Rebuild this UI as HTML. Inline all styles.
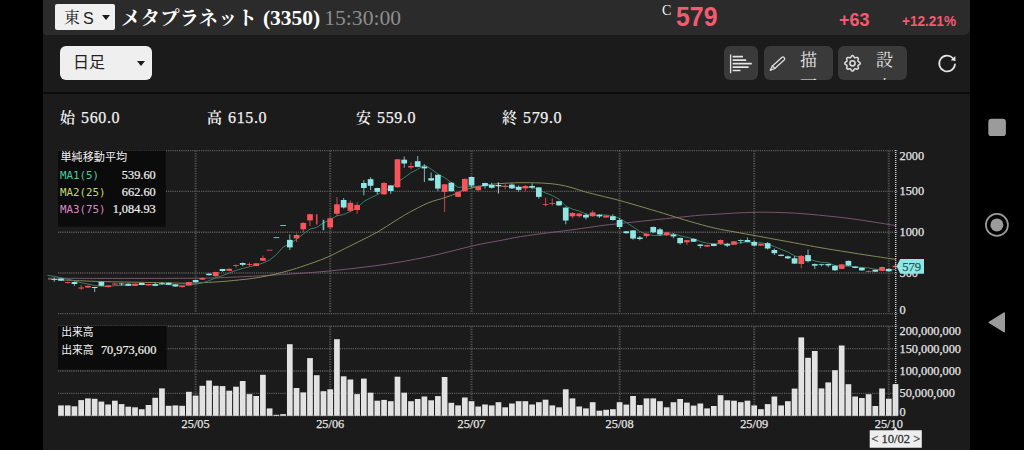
<!DOCTYPE html>
<html lang="ja">
<head>
<meta charset="utf-8">
<title>メタプラネット (3350)</title>
<style>
*{box-sizing:border-box;margin:0;padding:0}
html,body{width:1024px;height:450px;overflow:hidden;background:#000}
body{position:relative;font-family:"Liberation Serif","Noto Serif CJK SC",serif;color:#eee}
.app{position:absolute;left:43px;top:0;width:927px;height:450px;background:#1b1b1b}
.hdr{position:absolute;left:0;top:0;width:927px;height:35px;background:#2b2b2b;border-radius:0 0 6px 4px}
.mkt{position:absolute;left:12px;top:4px;width:60px;height:26px;background:#f0f0f0;border-radius:2px;color:#222}
.mkt .k{position:absolute;left:9px;top:2px;font:16px/24px "Liberation Serif","Noto Serif CJK SC",serif}
.mkt .s{position:absolute;left:28px;top:2px;font:16px/25px "Liberation Sans","Noto Sans CJK JP",sans-serif}
.tri{position:absolute;width:0;height:0;border-left:4.5px solid transparent;border-right:4.5px solid transparent;border-top:5px solid #1a1a1a}
.ttl{position:absolute;left:78px;top:.5px;height:35px;line-height:35px;white-space:nowrap;font-size:19.5px;font-weight:700;color:#fff}
.ttl .code{font:700 21.5px/35px "Liberation Serif",serif;margin-left:6px;letter-spacing:0}
.ttl .tm{font:400 21.6px/35px "Liberation Serif",serif;color:#8e8e8e;margin-left:4px}
.cl{position:absolute;left:619px;top:3px;font:14px/16px "Liberation Serif",serif;color:#f2f2f2}
.px{position:absolute;left:633px;top:2px;font:700 27px/30px "Liberation Sans",sans-serif;color:#f45a70;transform-origin:0 50%;transform:scaleX(.92)}
.chg{position:absolute;left:796px;top:10px;font:700 18px/20px "Liberation Sans",sans-serif;color:#f45a70}
.pct{position:absolute;left:859px;top:13px;font:700 14px/16px "Liberation Sans",sans-serif;color:#f45a70;transform-origin:0 50%;transform:scaleX(.97)}
.sel{position:absolute;left:17px;top:46px;width:92px;height:34px;background:#efefef;border-radius:6px;color:#222}
.sel span{position:absolute;left:13px;top:5px;font:16px/24px "Liberation Sans","Noto Sans CJK JP",sans-serif}
.btn{position:absolute;top:46px;height:34px;background:#3a3a3a;border-radius:6px;overflow:hidden;color:#e6e6e6}
.btn .t{position:absolute;top:1.8px;width:17px;font:17px/26.8px "Liberation Serif","Noto Serif CJK SC",serif;word-break:break-all}
.sep{position:absolute;left:0;top:92px;width:927px;height:1.5px;background:#0b0b0b}
.ohlc{position:absolute;top:108.4px;-webkit-text-stroke:.25px #f0f0f0;font:16px/20px "Liberation Serif","Noto Serif CJK SC",serif;color:#f0f0f0;white-space:nowrap;letter-spacing:.6px}
.ohlc b{font-weight:600;font-size:15px;letter-spacing:0;margin-right:1.5px;-webkit-text-stroke:0}
svg{position:absolute;left:0;top:0}
svg text{font-family:"Liberation Serif","Noto Serif CJK SC",serif}
svg text.sans{font-family:"Liberation Sans","Noto Sans CJK JP",sans-serif}
svg .mono text{font-family:"DejaVu Sans Mono","Liberation Mono",monospace}
</style>
</head>
<body>
<div class="app">
  <div class="hdr">
    <div class="mkt"><span class="k">東</span><span class="s">S</span><i class="tri" style="left:47px;top:11px"></i></div>
    <div class="ttl">メタプラネット<span class="code">(3350)</span><span class="tm">15:30:00</span></div>
    <div class="cl">C</div>
    <div class="px">579</div>
    <div class="chg">+63</div>
    <div class="pct">+12.21%</div>
  </div>
  <div class="sel"><span>日足</span><i class="tri" style="left:77px;top:15px"></i></div>
  <div class="btn" style="left:681px;width:34px">
    <svg width="34" height="34" viewBox="0 0 34 34"><g stroke="#e4e4e4" fill="none"><path d="M6.6 8.4V27.2" stroke-width="1.3"/><path d="M8.6 10.7H19M8.6 14.2H22.2M8.6 17.7H27.8M8.6 21.1H24.6M8.6 24.5H16.5" stroke-width="1.7"/></g></svg>
  </div>
  <div class="btn" style="left:721px;width:69px">
    <svg width="34" height="34" viewBox="0 0 34 34"><g stroke="#dcdcdc" stroke-width="1.3" fill="none" stroke-linejoin="round" stroke-linecap="round"><path d="M6.20 24.30L8.43 19.91L17.79 11.40A1.75 1.75 0 0 1 20.14 13.99L10.78 22.50Z"/><path d="M8.43 19.91L10.78 22.50"/></g></svg>
    <div class="t" style="left:36px">描画</div>
  </div>
  <div class="btn" style="left:795px;width:69px">
    <svg width="34" height="34" viewBox="0 0 34 34"><g stroke="#dcdcdc" stroke-width="1.55" fill="none" stroke-linejoin="round"><circle cx="14.5" cy="17.3" r="2.6"/><path d="M14.50 9.60L15.00 9.71L15.46 10.02L15.84 10.58L16.15 11.15L16.46 11.53L16.80 11.76L17.19 11.84L17.68 11.79L18.31 11.60L18.97 11.48L19.52 11.58L19.94 11.86L20.22 12.28L20.32 12.83L20.20 13.49L20.01 14.12L19.96 14.61L20.04 15.00L20.27 15.34L20.65 15.65L21.22 15.96L21.78 16.34L22.09 16.80L22.20 17.30L22.09 17.80L21.78 18.26L21.22 18.64L20.65 18.95L20.27 19.26L20.04 19.60L19.96 19.99L20.01 20.48L20.20 21.11L20.32 21.77L20.22 22.32L19.94 22.74L19.52 23.02L18.97 23.12L18.31 23.00L17.68 22.81L17.19 22.76L16.80 22.84L16.46 23.07L16.15 23.45L15.84 24.02L15.46 24.58L15.00 24.89L14.50 25.00L14.00 24.89L13.54 24.58L13.16 24.02L12.85 23.45L12.54 23.07L12.20 22.84L11.81 22.76L11.32 22.81L10.69 23.00L10.03 23.12L9.48 23.02L9.06 22.74L8.78 22.32L8.68 21.77L8.80 21.11L8.99 20.48L9.04 19.99L8.96 19.60L8.73 19.26L8.35 18.95L7.78 18.64L7.22 18.26L6.91 17.80L6.80 17.30L6.91 16.80L7.22 16.34L7.78 15.96L8.35 15.65L8.73 15.34L8.96 15.00L9.04 14.61L8.99 14.12L8.80 13.49L8.68 12.83L8.78 12.28L9.06 11.86L9.48 11.58L10.03 11.48L10.69 11.60L11.32 11.79L11.81 11.84L12.20 11.76L12.54 11.53L12.85 11.15L13.16 10.58L13.54 10.02L14.00 9.71Z"/></g></svg>
    <div class="t" style="left:38px">設定</div>
  </div>
  <svg style="left:893px;top:52px" width="24" height="24" viewBox="0 0 24 24"><path d="M16.97 6.21A7.9 7.9 0 1 0 18.97 12.3" fill="none" stroke="#e2e2e2" stroke-width="1.7" stroke-linecap="round"/><path d="M19.3 4.1L14.7 8.3L19.5 9Z" fill="#e2e2e2"/></svg>
  <div class="sep"></div>
  <div class="ohlc" style="left:17px"><b>始</b> 560.0</div>
  <div class="ohlc" style="left:164px"><b>高</b> 615.0</div>
  <div class="ohlc" style="left:313px"><b>安</b> 559.0</div>
  <div class="ohlc" style="left:459px"><b>終</b> 579.0</div>
</div>
<svg width="1024" height="450" viewBox="0 0 1024 450">
<g stroke="#5c5c5c" stroke-width="1.4" stroke-dasharray="1.2 1" fill="none"><line x1="58" y1="150.6" x2="898" y2="150.6"/><line x1="58" y1="191.4" x2="898" y2="191.4"/><line x1="58" y1="232.2" x2="898" y2="232.2"/><line x1="58" y1="273.0" x2="898" y2="273.0"/><line x1="58" y1="313.6" x2="898" y2="313.6"/><line x1="58" y1="326.3" x2="898" y2="326.3"/><line x1="58" y1="348.65" x2="898" y2="348.65"/><line x1="58" y1="371.0" x2="898" y2="371.0"/><line x1="58" y1="393.35" x2="898" y2="393.35"/><line x1="58" y1="415.7" x2="898" y2="415.7"/></g>
<g stroke="#505050" stroke-width="2.1" stroke-dasharray="1.2 1.3" fill="none"><line x1="195.6" y1="150.6" x2="195.6" y2="313.6"/><line x1="195.6" y1="326.3" x2="195.6" y2="416"/><line x1="330.2" y1="150.6" x2="330.2" y2="313.6"/><line x1="330.2" y1="326.3" x2="330.2" y2="416"/><line x1="471.5" y1="150.6" x2="471.5" y2="313.6"/><line x1="471.5" y1="326.3" x2="471.5" y2="416"/><line x1="619.6" y1="150.6" x2="619.6" y2="313.6"/><line x1="619.6" y1="326.3" x2="619.6" y2="416"/><line x1="754.2" y1="150.6" x2="754.2" y2="313.6"/><line x1="754.2" y1="326.3" x2="754.2" y2="416"/><line x1="888.8" y1="150.6" x2="888.8" y2="313.6"/><line x1="888.8" y1="326.3" x2="888.8" y2="416"/></g>
<g fill="#e2e2e2"><rect x="58.15" y="405.4" width="5.7" height="10.4"/><rect x="64.88" y="405.4" width="5.7" height="10.4"/><rect x="71.61" y="406.3" width="5.7" height="9.5"/><rect x="78.34" y="400.1" width="5.7" height="15.7"/><rect x="85.07" y="398.4" width="5.7" height="17.4"/><rect x="91.80" y="398.8" width="5.7" height="17.0"/><rect x="98.53" y="401.6" width="5.7" height="14.2"/><rect x="105.26" y="404.5" width="5.7" height="11.3"/><rect x="111.99" y="400.7" width="5.7" height="15.1"/><rect x="118.72" y="404.1" width="5.7" height="11.7"/><rect x="125.45" y="406.7" width="5.7" height="9.1"/><rect x="132.18" y="407.3" width="5.7" height="8.5"/><rect x="138.91" y="409.2" width="5.7" height="6.6"/><rect x="145.64" y="405.0" width="5.7" height="10.8"/><rect x="152.37" y="397.8" width="5.7" height="18.0"/><rect x="159.10" y="388.4" width="5.7" height="27.4"/><rect x="165.83" y="405.8" width="5.7" height="10.0"/><rect x="172.56" y="405.4" width="5.7" height="10.4"/><rect x="179.29" y="405.8" width="5.7" height="10.0"/><rect x="186.02" y="391.8" width="5.7" height="24.0"/><rect x="192.75" y="395.6" width="5.7" height="20.2"/><rect x="199.48" y="385.8" width="5.7" height="30.0"/><rect x="206.21" y="380.5" width="5.7" height="35.3"/><rect x="212.94" y="385.8" width="5.7" height="30.0"/><rect x="219.67" y="386.1" width="5.7" height="29.7"/><rect x="226.40" y="390.7" width="5.7" height="25.1"/><rect x="233.13" y="386.7" width="5.7" height="29.1"/><rect x="239.86" y="381.0" width="5.7" height="34.8"/><rect x="246.59" y="394.1" width="5.7" height="21.7"/><rect x="253.32" y="396.0" width="5.7" height="19.8"/><rect x="260.05" y="374.8" width="5.7" height="41.0"/><rect x="266.78" y="408.4" width="5.7" height="7.4"/><rect x="273.51" y="414.8" width="5.7" height="1.0"/><rect x="280.24" y="414.1" width="5.7" height="1.7"/><rect x="286.97" y="344.2" width="5.7" height="71.6"/><rect x="293.70" y="388.0" width="5.7" height="27.8"/><rect x="300.43" y="392.4" width="5.7" height="23.4"/><rect x="307.16" y="358.1" width="5.7" height="57.7"/><rect x="313.89" y="375.2" width="5.7" height="40.6"/><rect x="320.62" y="391.2" width="5.7" height="24.6"/><rect x="327.35" y="389.3" width="5.7" height="26.5"/><rect x="334.08" y="339.2" width="5.7" height="76.6"/><rect x="340.81" y="376.3" width="5.7" height="39.5"/><rect x="347.54" y="379.5" width="5.7" height="36.3"/><rect x="354.27" y="394.1" width="5.7" height="21.7"/><rect x="361.00" y="378.6" width="5.7" height="37.2"/><rect x="367.73" y="392.7" width="5.7" height="23.1"/><rect x="374.46" y="400.7" width="5.7" height="15.1"/><rect x="381.19" y="399.9" width="5.7" height="15.9"/><rect x="387.92" y="401.2" width="5.7" height="14.6"/><rect x="394.65" y="376.7" width="5.7" height="39.1"/><rect x="401.38" y="392.7" width="5.7" height="23.1"/><rect x="408.11" y="401.2" width="5.7" height="14.6"/><rect x="414.84" y="399.0" width="5.7" height="16.8"/><rect x="421.57" y="396.5" width="5.7" height="19.3"/><rect x="428.30" y="400.3" width="5.7" height="15.5"/><rect x="435.03" y="396.1" width="5.7" height="19.7"/><rect x="441.76" y="377.0" width="5.7" height="38.8"/><rect x="448.49" y="402.8" width="5.7" height="13.0"/><rect x="455.22" y="405.4" width="5.7" height="10.4"/><rect x="461.95" y="397.5" width="5.7" height="18.3"/><rect x="468.68" y="401.2" width="5.7" height="14.6"/><rect x="475.41" y="406.5" width="5.7" height="9.3"/><rect x="482.14" y="404.5" width="5.7" height="11.3"/><rect x="488.87" y="405.4" width="5.7" height="10.4"/><rect x="495.60" y="402.2" width="5.7" height="13.6"/><rect x="502.33" y="407.3" width="5.7" height="8.5"/><rect x="509.06" y="403.5" width="5.7" height="12.3"/><rect x="515.79" y="401.2" width="5.7" height="14.6"/><rect x="522.52" y="401.2" width="5.7" height="14.6"/><rect x="529.25" y="404.5" width="5.7" height="11.3"/><rect x="535.98" y="402.2" width="5.7" height="13.6"/><rect x="542.71" y="399.7" width="5.7" height="16.1"/><rect x="549.44" y="405.4" width="5.7" height="10.4"/><rect x="556.17" y="407.3" width="5.7" height="8.5"/><rect x="562.90" y="389.3" width="5.7" height="26.5"/><rect x="569.63" y="398.4" width="5.7" height="17.4"/><rect x="576.36" y="406.5" width="5.7" height="9.3"/><rect x="583.09" y="408.4" width="5.7" height="7.4"/><rect x="589.82" y="402.2" width="5.7" height="13.6"/><rect x="596.55" y="410.7" width="5.7" height="5.1"/><rect x="603.28" y="409.8" width="5.7" height="6.0"/><rect x="610.01" y="409.2" width="5.7" height="6.6"/><rect x="616.74" y="402.2" width="5.7" height="13.6"/><rect x="623.47" y="404.6" width="5.7" height="11.2"/><rect x="630.20" y="396.0" width="5.7" height="19.8"/><rect x="636.93" y="405.0" width="5.7" height="10.8"/><rect x="643.66" y="398.4" width="5.7" height="17.4"/><rect x="650.39" y="398.4" width="5.7" height="17.4"/><rect x="657.12" y="401.2" width="5.7" height="14.6"/><rect x="663.85" y="407.3" width="5.7" height="8.5"/><rect x="670.58" y="402.2" width="5.7" height="13.6"/><rect x="677.31" y="399.0" width="5.7" height="16.8"/><rect x="684.04" y="402.6" width="5.7" height="13.2"/><rect x="690.77" y="405.6" width="5.7" height="10.2"/><rect x="697.50" y="403.5" width="5.7" height="12.3"/><rect x="704.23" y="408.4" width="5.7" height="7.4"/><rect x="710.96" y="406.0" width="5.7" height="9.8"/><rect x="717.69" y="395.2" width="5.7" height="20.6"/><rect x="724.42" y="400.3" width="5.7" height="15.5"/><rect x="731.15" y="400.7" width="5.7" height="15.1"/><rect x="737.88" y="402.2" width="5.7" height="13.6"/><rect x="744.61" y="400.7" width="5.7" height="15.1"/><rect x="751.34" y="405.4" width="5.7" height="10.4"/><rect x="758.07" y="409.2" width="5.7" height="6.6"/><rect x="764.80" y="404.1" width="5.7" height="11.7"/><rect x="771.53" y="396.5" width="5.7" height="19.3"/><rect x="778.26" y="405.4" width="5.7" height="10.4"/><rect x="784.99" y="401.2" width="5.7" height="14.6"/><rect x="791.72" y="388.6" width="5.7" height="27.2"/><rect x="798.45" y="337.4" width="5.7" height="78.4"/><rect x="805.18" y="357.8" width="5.7" height="58.0"/><rect x="811.91" y="351.0" width="5.7" height="64.8"/><rect x="818.64" y="388.4" width="5.7" height="27.4"/><rect x="825.37" y="382.4" width="5.7" height="33.4"/><rect x="832.10" y="370.2" width="5.7" height="45.6"/><rect x="838.83" y="345.5" width="5.7" height="70.3"/><rect x="845.56" y="384.2" width="5.7" height="31.6"/><rect x="852.29" y="396.5" width="5.7" height="19.3"/><rect x="859.02" y="398.0" width="5.7" height="17.8"/><rect x="865.75" y="394.2" width="5.7" height="21.6"/><rect x="872.48" y="406.0" width="5.7" height="9.8"/><rect x="879.21" y="388.5" width="5.7" height="27.3"/><rect x="885.94" y="398.7" width="5.7" height="17.1"/><rect x="892.67" y="384.1" width="5.7" height="31.7"/></g>
<path d="M48.0,278.2C56.7,278.2 83.0,278.4 100.0,278.4C117.0,278.4 132.3,278.4 150.0,278.4C167.7,278.3 192.7,278.3 206.0,278.1C219.3,277.9 220.9,277.7 230.0,277.3C239.1,276.9 250.6,276.4 260.6,275.8C270.6,275.2 279.3,274.7 290.0,274.0C300.7,273.3 315.0,272.3 325.0,271.4C335.0,270.5 341.7,269.7 350.0,268.8C358.3,267.9 366.7,266.9 375.0,265.8C383.3,264.7 392.5,263.2 400.0,262.0C407.5,260.8 413.3,259.6 420.0,258.3C426.7,257.0 433.3,255.6 440.0,254.0C446.7,252.4 453.2,250.7 460.0,249.0C466.8,247.3 474.3,245.4 481.0,244.0C487.7,242.6 493.4,241.8 500.0,240.6C506.6,239.4 512.3,237.9 520.6,236.6C528.9,235.3 540.9,233.8 550.0,232.6C559.1,231.4 566.7,230.5 575.0,229.4C583.3,228.3 592.6,226.8 600.0,225.8C607.4,224.8 611.3,224.5 619.6,223.6C627.9,222.7 640.1,221.4 650.0,220.3C659.9,219.2 670.7,218.2 679.0,217.3C687.3,216.5 694.0,215.7 700.0,215.2C706.0,214.7 708.3,214.7 715.0,214.3C721.7,213.9 732.2,213.2 740.0,212.8C747.8,212.5 754.2,212.2 761.7,212.2C769.2,212.2 777.0,212.3 785.0,212.7C793.0,213.0 800.0,213.4 810.0,214.3C820.0,215.2 835.0,216.7 845.0,217.9C855.0,219.1 861.5,220.2 870.0,221.5C878.5,222.8 891.7,224.9 896.0,225.6" fill="none" stroke="#785472" stroke-width="1"/>
<path d="M48.0,279.0C51.7,279.2 61.3,279.9 70.0,280.3C78.7,280.7 86.7,281.1 100.0,281.5C113.3,281.9 135.8,282.2 150.0,282.5C164.2,282.8 177.3,283.1 185.0,283.2C192.7,283.3 189.7,283.3 196.0,283.0C202.3,282.7 214.6,282.1 222.8,281.5C231.0,280.9 238.7,280.0 245.0,279.3C251.3,278.6 255.6,278.0 260.6,277.1C265.6,276.2 270.3,275.3 275.0,274.2C279.7,273.1 284.0,271.9 289.0,270.5C294.0,269.1 299.0,267.6 305.0,265.5C311.0,263.4 319.2,260.6 325.0,258.2C330.8,255.8 334.2,253.9 340.0,251.0C345.8,248.1 353.8,244.2 360.0,241.0C366.2,237.8 371.6,235.4 377.4,232.1C383.2,228.8 389.6,224.3 395.0,221.0C400.4,217.7 403.9,215.3 409.5,212.3C415.1,209.3 422.5,205.2 428.4,202.8C434.3,200.4 440.6,199.1 445.0,197.6C449.4,196.1 451.8,195.3 455.0,194.0C458.2,192.7 459.4,191.4 464.0,190.0C468.6,188.6 477.3,186.5 482.8,185.5C488.3,184.5 492.3,184.2 497.0,183.8C501.7,183.4 506.7,183.2 511.0,183.0C515.3,182.8 518.9,182.7 523.0,182.7C527.1,182.7 531.7,182.7 535.7,182.8C539.7,182.9 543.2,183.1 547.0,183.4C550.8,183.7 554.2,183.9 558.4,184.6C562.6,185.3 567.6,186.5 572.0,187.7C576.4,188.9 580.3,190.5 585.0,191.8C589.7,193.1 594.2,194.2 600.0,195.6C605.8,197.0 612.1,198.5 619.6,200.5C627.1,202.5 636.7,205.4 645.0,207.8C653.3,210.2 662.0,212.9 669.5,215.2C677.0,217.5 682.4,219.3 690.0,221.5C697.6,223.7 707.5,226.4 715.0,228.2C722.5,229.9 728.5,230.8 735.0,232.0C741.5,233.2 747.3,234.2 754.0,235.4C760.7,236.6 767.4,237.9 775.0,239.3C782.6,240.7 792.0,242.4 799.5,243.8C807.0,245.2 812.1,246.2 820.0,247.6C827.9,249.0 838.7,250.7 847.0,252.0C855.3,253.3 861.9,254.4 870.0,255.6C878.1,256.8 891.4,258.8 895.7,259.4" fill="none" stroke="#858a58" stroke-width="1"/>
<path d="M47.5,275.4 L54.3,276.3 L61.0,277.7 L67.7,279.2 L74.5,280.8 L81.2,282.8 L87.9,284.0 L94.7,285.5 L101.4,286.2 L108.1,286.5 L114.8,285.7 L121.6,285.4 L128.3,285.0 L135.0,284.5 L141.8,284.5 L148.5,284.6 L155.2,284.9 L161.9,284.5 L168.7,284.7 L175.4,285.0 L182.1,285.3 L188.9,284.6 L195.6,284.3 L202.3,282.9 L209.1,280.6 L215.8,277.9 L222.5,275.7 L229.2,273.0 L236.0,270.4 L242.7,268.4 L249.4,266.8 L256.2,265.2 L262.9,263.1 L269.6,260.0 L276.4,254.6 L283.1,247.0 L289.8,243.9 L296.6,239.3 L303.3,233.9 L310.0,229.1 L316.7,227.4 L323.5,222.9 L330.2,219.5 L336.9,215.8 L343.7,214.5 L350.4,211.5 L357.1,207.6 L363.9,201.5 L370.6,197.8 L377.3,194.7 L384.0,190.7 L390.8,187.9 L397.5,182.2 L404.2,177.7 L411.0,172.6 L417.7,169.3 L424.4,164.8 L431.2,169.1 L437.9,174.1 L444.6,177.7 L451.3,182.6 L458.1,187.3 L464.8,187.0 L471.5,186.4 L478.3,186.8 L485.0,185.8 L491.7,184.9 L498.5,186.4 L505.2,186.4 L511.9,186.8 L518.6,187.6 L525.4,187.2 L532.1,187.5 L538.8,189.8 L545.6,192.9 L552.3,195.5 L559.0,199.4 L565.8,206.0 L572.5,209.2 L579.2,211.1 L585.9,214.0 L592.7,215.4 L599.4,214.6 L606.1,215.1 L612.9,216.4 L619.6,218.3 L626.3,222.4 L633.1,226.9 L639.8,231.5 L646.5,234.3 L653.2,235.4 L660.0,235.6 L666.7,234.4 L673.4,233.9 L680.2,235.7 L686.9,237.3 L693.6,238.8 L700.4,241.5 L707.1,243.2 L713.8,243.8 L720.5,243.7 L727.3,244.5 L734.0,243.6 L740.7,242.7 L747.5,241.9 L754.2,243.0 L760.9,242.7 L767.7,244.1 L774.4,246.6 L781.1,249.4 L787.8,251.9 L794.6,255.9 L801.3,257.4 L808.0,259.0 L814.8,260.9 L821.5,262.3 L828.2,262.7 L835.0,265.5 L841.7,266.2 L848.4,266.2 L855.1,266.7 L861.9,267.7 L868.6,267.9 L875.3,269.3 L882.1,269.6 L888.8,270.3 L895.5,269.3" fill="none" stroke="#3a7d66" stroke-width="1" stroke-linejoin="round"/>
<line x1="54.27" y1="277.6" x2="54.27" y2="281.7" stroke="#8fe6e4" stroke-width="1.1" stroke-opacity=".72"/><rect x="51.42" y="279.0" width="5.7" height="0.8" fill="#8fe6e4"/>
<line x1="61.00" y1="278.2" x2="61.00" y2="281.0" stroke="#8fe6e4" stroke-width="1.1" stroke-opacity=".72"/><rect x="58.15" y="278.5" width="5.7" height="2.2" fill="#8fe6e4"/>
<line x1="67.73" y1="281.5" x2="67.73" y2="283.5" stroke="#f8545b" stroke-width="1.1" stroke-opacity=".72"/><rect x="64.88" y="282.0" width="5.7" height="0.8" fill="#f8545b"/>
<line x1="74.46" y1="281.5" x2="74.46" y2="285.8" stroke="#8fe6e4" stroke-width="1.1" stroke-opacity=".72"/><rect x="71.61" y="282.0" width="5.7" height="2.0" fill="#8fe6e4"/>
<line x1="81.19" y1="285.0" x2="81.19" y2="290.0" stroke="#f8545b" stroke-width="1.1" stroke-opacity=".72"/><rect x="78.34" y="287.5" width="5.7" height="1.0" fill="#f8545b"/>
<line x1="87.92" y1="285.5" x2="87.92" y2="288.0" stroke="#f8545b" stroke-width="1.1" stroke-opacity=".72"/><rect x="85.07" y="285.8" width="5.7" height="1.7" fill="#f8545b"/>
<line x1="94.65" y1="286.7" x2="94.65" y2="292.0" stroke="#8fe6e4" stroke-width="1.1" stroke-opacity=".72"/><rect x="91.80" y="287.0" width="5.7" height="1.0" fill="#8fe6e4"/>
<line x1="101.38" y1="281.5" x2="101.38" y2="286.2" stroke="#8fe6e4" stroke-width="1.1" stroke-opacity=".72"/><rect x="98.53" y="282.0" width="5.7" height="3.8" fill="#8fe6e4"/>
<line x1="108.11" y1="285.2" x2="108.11" y2="287.4" stroke="#f8545b" stroke-width="1.1" stroke-opacity=".72"/><rect x="105.26" y="285.4" width="5.7" height="1.7" fill="#f8545b"/>
<line x1="114.84" y1="283.0" x2="114.84" y2="285.0" stroke="#f8545b" stroke-width="1.1" stroke-opacity=".72"/><rect x="111.99" y="283.5" width="5.7" height="1.0" fill="#f8545b"/>
<line x1="121.57" y1="283.0" x2="121.57" y2="285.8" stroke="#8fe6e4" stroke-width="1.1" stroke-opacity=".72"/><rect x="118.72" y="283.5" width="5.7" height="0.8" fill="#8fe6e4"/>
<line x1="128.30" y1="283.5" x2="128.30" y2="286.0" stroke="#8fe6e4" stroke-width="1.1" stroke-opacity=".72"/><rect x="125.45" y="283.7" width="5.7" height="2.1" fill="#8fe6e4"/>
<line x1="135.03" y1="283.5" x2="135.03" y2="286.1" stroke="#f8545b" stroke-width="1.1" stroke-opacity=".72"/><rect x="132.18" y="283.7" width="5.7" height="2.2" fill="#f8545b"/>
<line x1="141.76" y1="282.8" x2="141.76" y2="285.3" stroke="#8fe6e4" stroke-width="1.1" stroke-opacity=".72"/><rect x="138.91" y="283.0" width="5.7" height="2.0" fill="#8fe6e4"/>
<line x1="148.49" y1="283.8" x2="148.49" y2="285.6" stroke="#f8545b" stroke-width="1.1" stroke-opacity=".72"/><rect x="145.64" y="284.0" width="5.7" height="1.4" fill="#f8545b"/>
<line x1="155.22" y1="282.3" x2="155.22" y2="286.2" stroke="#8fe6e4" stroke-width="1.1" stroke-opacity=".72"/><rect x="152.37" y="284.1" width="5.7" height="1.7" fill="#8fe6e4"/>
<line x1="161.95" y1="282.0" x2="161.95" y2="284.8" stroke="#8fe6e4" stroke-width="1.1" stroke-opacity=".72"/><rect x="159.10" y="283.0" width="5.7" height="0.8" fill="#8fe6e4"/>
<line x1="168.68" y1="282.5" x2="168.68" y2="285.0" stroke="#8fe6e4" stroke-width="1.1" stroke-opacity=".72"/><rect x="165.83" y="282.8" width="5.7" height="2.0" fill="#8fe6e4"/>
<line x1="175.41" y1="284.2" x2="175.41" y2="286.8" stroke="#8fe6e4" stroke-width="1.1" stroke-opacity=".72"/><rect x="172.56" y="284.4" width="5.7" height="2.1" fill="#8fe6e4"/>
<line x1="182.14" y1="285.5" x2="182.14" y2="287.4" stroke="#f8545b" stroke-width="1.1" stroke-opacity=".72"/><rect x="179.29" y="285.8" width="5.7" height="1.3" fill="#f8545b"/>
<line x1="188.87" y1="281.7" x2="188.87" y2="285.8" stroke="#f8545b" stroke-width="1.1" stroke-opacity=".72"/><rect x="186.02" y="282.0" width="5.7" height="3.5" fill="#f8545b"/>
<line x1="195.60" y1="279.7" x2="195.60" y2="282.5" stroke="#8fe6e4" stroke-width="1.1" stroke-opacity=".72"/><rect x="192.75" y="280.0" width="5.7" height="2.2" fill="#8fe6e4"/>
<line x1="202.33" y1="277.6" x2="202.33" y2="280.0" stroke="#f8545b" stroke-width="1.1" stroke-opacity=".72"/><rect x="199.48" y="278.0" width="5.7" height="1.6" fill="#f8545b"/>
<line x1="209.06" y1="273.3" x2="209.06" y2="275.6" stroke="#8fe6e4" stroke-width="1.1" stroke-opacity=".72"/><rect x="206.21" y="273.7" width="5.7" height="1.5" fill="#8fe6e4"/>
<line x1="215.79" y1="271.7" x2="215.79" y2="276.5" stroke="#f8545b" stroke-width="1.1" stroke-opacity=".72"/><rect x="212.94" y="272.0" width="5.7" height="4.2" fill="#f8545b"/>
<line x1="222.52" y1="268.7" x2="222.52" y2="271.8" stroke="#8fe6e4" stroke-width="1.1" stroke-opacity=".72"/><rect x="219.67" y="269.0" width="5.7" height="2.0" fill="#8fe6e4"/>
<line x1="229.25" y1="268.5" x2="229.25" y2="271.2" stroke="#f8545b" stroke-width="1.1" stroke-opacity=".72"/><rect x="226.40" y="268.8" width="5.7" height="2.1" fill="#f8545b"/>
<line x1="235.98" y1="264.4" x2="235.98" y2="267.7" stroke="#f8545b" stroke-width="1.1" stroke-opacity=".72"/><rect x="233.13" y="265.2" width="5.7" height="0.8" fill="#f8545b"/>
<line x1="242.71" y1="262.5" x2="242.71" y2="266.3" stroke="#8fe6e4" stroke-width="1.1" stroke-opacity=".72"/><rect x="239.86" y="263.0" width="5.7" height="1.8" fill="#8fe6e4"/>
<line x1="249.44" y1="262.5" x2="249.44" y2="266.3" stroke="#f8545b" stroke-width="1.1" stroke-opacity=".72"/><rect x="246.59" y="264.0" width="5.7" height="0.8" fill="#f8545b"/>
<line x1="256.17" y1="263.0" x2="256.17" y2="266.3" stroke="#f8545b" stroke-width="1.1" stroke-opacity=".72"/><rect x="253.32" y="263.3" width="5.7" height="2.7" fill="#f8545b"/>
<line x1="262.90" y1="255.4" x2="262.90" y2="261.0" stroke="#f8545b" stroke-width="1.1" stroke-opacity=".72"/><rect x="260.05" y="258.0" width="5.7" height="2.7" fill="#f8545b"/>
<rect x="266.78" y="249.8" width="5.7" height="0.8" fill="#f8545b"/>
<rect x="273.51" y="237.3" width="5.7" height="0.8" fill="#8fe6e4"/>
<rect x="280.24" y="225.2" width="5.7" height="0.8" fill="#8fe6e4"/>
<line x1="289.82" y1="234.6" x2="289.82" y2="250.0" stroke="#8fe6e4" stroke-width="1.1" stroke-opacity=".72"/><rect x="286.97" y="239.9" width="5.7" height="7.5" fill="#8fe6e4"/>
<line x1="296.55" y1="233.6" x2="296.55" y2="242.0" stroke="#f8545b" stroke-width="1.1" stroke-opacity=".72"/><rect x="293.70" y="235.0" width="5.7" height="3.4" fill="#f8545b"/>
<line x1="303.28" y1="222.3" x2="303.28" y2="232.3" stroke="#f8545b" stroke-width="1.1" stroke-opacity=".72"/><rect x="300.43" y="222.9" width="5.7" height="6.4" fill="#f8545b"/>
<line x1="310.01" y1="213.8" x2="310.01" y2="226.0" stroke="#f8545b" stroke-width="1.1" stroke-opacity=".72"/><rect x="307.16" y="214.2" width="5.7" height="6.2" fill="#f8545b"/>
<line x1="316.74" y1="214.2" x2="316.74" y2="224.6" stroke="#f8545b" stroke-width="1.7" opacity=".8"/>
<line x1="323.47" y1="219.8" x2="323.47" y2="230.2" stroke="#8fe6e4" stroke-width="1.7" opacity=".8"/>
<line x1="330.20" y1="217.0" x2="330.20" y2="229.3" stroke="#f8545b" stroke-width="1.1" stroke-opacity=".72"/><rect x="327.35" y="218.3" width="5.7" height="9.1" fill="#f8545b"/>
<line x1="336.93" y1="197.0" x2="336.93" y2="215.7" stroke="#f8545b" stroke-width="1.1" stroke-opacity=".72"/><rect x="334.08" y="204.3" width="5.7" height="9.5" fill="#f8545b"/>
<line x1="343.66" y1="198.0" x2="343.66" y2="208.5" stroke="#8fe6e4" stroke-width="1.1" stroke-opacity=".72"/><rect x="340.81" y="200.0" width="5.7" height="7.5" fill="#8fe6e4"/>
<line x1="350.39" y1="200.5" x2="350.39" y2="212.3" stroke="#f8545b" stroke-width="1.1" stroke-opacity=".72"/><rect x="347.54" y="202.8" width="5.7" height="8.0" fill="#f8545b"/>
<line x1="357.12" y1="202.4" x2="357.12" y2="213.8" stroke="#f8545b" stroke-width="1.1" stroke-opacity=".72"/><rect x="354.27" y="205.0" width="5.7" height="5.0" fill="#f8545b"/>
<line x1="363.85" y1="180.0" x2="363.85" y2="195.3" stroke="#8fe6e4" stroke-width="1.1" stroke-opacity=".72"/><rect x="361.00" y="183.0" width="5.7" height="5.0" fill="#8fe6e4"/>
<line x1="370.58" y1="177.3" x2="370.58" y2="190.0" stroke="#8fe6e4" stroke-width="1.1" stroke-opacity=".72"/><rect x="367.73" y="179.2" width="5.7" height="6.6" fill="#8fe6e4"/>
<line x1="377.31" y1="187.7" x2="377.31" y2="194.3" stroke="#8fe6e4" stroke-width="1.1" stroke-opacity=".72"/><rect x="374.46" y="188.0" width="5.7" height="3.9" fill="#8fe6e4"/>
<line x1="384.04" y1="182.0" x2="384.04" y2="195.0" stroke="#f8545b" stroke-width="1.1" stroke-opacity=".72"/><rect x="381.19" y="183.0" width="5.7" height="11.3" fill="#f8545b"/>
<line x1="390.77" y1="185.0" x2="390.77" y2="193.7" stroke="#8fe6e4" stroke-width="1.1" stroke-opacity=".72"/><rect x="387.92" y="185.4" width="5.7" height="5.6" fill="#8fe6e4"/>
<line x1="397.50" y1="159.0" x2="397.50" y2="187.6" stroke="#f8545b" stroke-width="1.1" stroke-opacity=".72"/><rect x="394.65" y="159.3" width="5.7" height="28.0" fill="#f8545b"/>
<line x1="404.23" y1="156.5" x2="404.23" y2="167.8" stroke="#8fe6e4" stroke-width="1.1" stroke-opacity=".72"/><rect x="401.38" y="159.7" width="5.7" height="3.8" fill="#8fe6e4"/>
<line x1="410.96" y1="162.2" x2="410.96" y2="169.2" stroke="#f8545b" stroke-width="1.1" stroke-opacity=".72"/><rect x="408.11" y="166.0" width="5.7" height="1.5" fill="#f8545b"/>
<line x1="417.69" y1="156.0" x2="417.69" y2="167.2" stroke="#8fe6e4" stroke-width="1.1" stroke-opacity=".72"/><rect x="414.84" y="161.2" width="5.7" height="5.7" fill="#8fe6e4"/>
<line x1="424.42" y1="164.6" x2="424.42" y2="182.0" stroke="#8fe6e4" stroke-width="1.1" stroke-opacity=".72"/><rect x="421.57" y="166.5" width="5.7" height="1.9" fill="#8fe6e4"/>
<line x1="431.15" y1="172.6" x2="431.15" y2="181.0" stroke="#8fe6e4" stroke-width="1.1" stroke-opacity=".72"/><rect x="428.30" y="178.2" width="5.7" height="2.3" fill="#8fe6e4"/>
<line x1="437.88" y1="174.5" x2="437.88" y2="191.0" stroke="#8fe6e4" stroke-width="1.1" stroke-opacity=".72"/><rect x="435.03" y="174.8" width="5.7" height="13.8" fill="#8fe6e4"/>
<line x1="444.61" y1="184.0" x2="444.61" y2="212.0" stroke="#f8545b" stroke-width="1.1" stroke-opacity=".72"/><rect x="441.76" y="184.3" width="5.7" height="7.6" fill="#f8545b"/>
<line x1="451.34" y1="182.0" x2="451.34" y2="191.5" stroke="#8fe6e4" stroke-width="1.1" stroke-opacity=".72"/><rect x="448.49" y="182.7" width="5.7" height="8.5" fill="#8fe6e4"/>
<line x1="458.07" y1="191.8" x2="458.07" y2="197.2" stroke="#f8545b" stroke-width="1.1" stroke-opacity=".72"/><rect x="455.22" y="192.1" width="5.7" height="4.8" fill="#f8545b"/>
<line x1="464.80" y1="178.5" x2="464.80" y2="191.5" stroke="#f8545b" stroke-width="1.1" stroke-opacity=".72"/><rect x="461.95" y="178.9" width="5.7" height="12.3" fill="#f8545b"/>
<line x1="471.53" y1="176.6" x2="471.53" y2="187.4" stroke="#8fe6e4" stroke-width="1.1" stroke-opacity=".72"/><rect x="468.68" y="177.0" width="5.7" height="8.5" fill="#8fe6e4"/>
<line x1="478.26" y1="185.5" x2="478.26" y2="191.2" stroke="#f8545b" stroke-width="1.1" stroke-opacity=".72"/><rect x="475.41" y="186.5" width="5.7" height="3.7" fill="#f8545b"/>
<line x1="484.99" y1="182.7" x2="484.99" y2="188.4" stroke="#8fe6e4" stroke-width="1.1" stroke-opacity=".72"/><rect x="482.14" y="183.0" width="5.7" height="3.0" fill="#8fe6e4"/>
<line x1="491.72" y1="182.7" x2="491.72" y2="188.4" stroke="#8fe6e4" stroke-width="1.1" stroke-opacity=".72"/><rect x="488.87" y="185.0" width="5.7" height="2.8" fill="#8fe6e4"/>
<line x1="498.45" y1="182.3" x2="498.45" y2="193.6" stroke="#e8f4f4" stroke-width="1.1" stroke-opacity=".72"/><rect x="495.60" y="185.2" width="5.7" height="0.8" fill="#e8f4f4"/>
<line x1="505.18" y1="184.2" x2="505.18" y2="189.3" stroke="#f8545b" stroke-width="1.1" stroke-opacity=".72"/><rect x="502.33" y="185.8" width="5.7" height="0.8" fill="#f8545b"/>
<line x1="511.91" y1="183.6" x2="511.91" y2="189.0" stroke="#8fe6e4" stroke-width="1.1" stroke-opacity=".72"/><rect x="509.06" y="184.6" width="5.7" height="3.8" fill="#8fe6e4"/>
<line x1="518.64" y1="185.5" x2="518.64" y2="191.8" stroke="#8fe6e4" stroke-width="1.1" stroke-opacity=".72"/><rect x="515.79" y="186.8" width="5.7" height="3.1" fill="#8fe6e4"/>
<line x1="525.37" y1="185.0" x2="525.37" y2="191.2" stroke="#f8545b" stroke-width="1.1" stroke-opacity=".72"/><rect x="522.52" y="186.0" width="5.7" height="2.4" fill="#f8545b"/>
<line x1="532.10" y1="183.6" x2="532.10" y2="189.3" stroke="#8fe6e4" stroke-width="1.1" stroke-opacity=".72"/><rect x="529.25" y="186.0" width="5.7" height="1.6" fill="#8fe6e4"/>
<line x1="538.83" y1="187.0" x2="538.83" y2="198.8" stroke="#8fe6e4" stroke-width="1.1" stroke-opacity=".72"/><rect x="535.98" y="187.4" width="5.7" height="9.5" fill="#8fe6e4"/>
<line x1="545.56" y1="197.8" x2="545.56" y2="206.3" stroke="#f8545b" stroke-width="1.1" stroke-opacity=".72"/><rect x="542.71" y="204.0" width="5.7" height="0.8" fill="#f8545b"/>
<line x1="552.29" y1="198.4" x2="552.29" y2="205.4" stroke="#f8545b" stroke-width="1.1" stroke-opacity=".72"/><rect x="549.44" y="203.0" width="5.7" height="0.8" fill="#f8545b"/>
<line x1="559.02" y1="200.9" x2="559.02" y2="205.7" stroke="#8fe6e4" stroke-width="1.1" stroke-opacity=".72"/><rect x="556.17" y="201.2" width="5.7" height="4.2" fill="#8fe6e4"/>
<line x1="565.75" y1="207.3" x2="565.75" y2="224.3" stroke="#8fe6e4" stroke-width="1.1" stroke-opacity=".72"/><rect x="562.90" y="207.6" width="5.7" height="12.9" fill="#8fe6e4"/>
<line x1="572.48" y1="212.0" x2="572.48" y2="218.2" stroke="#f8545b" stroke-width="1.1" stroke-opacity=".72"/><rect x="569.63" y="213.0" width="5.7" height="3.3" fill="#f8545b"/>
<line x1="579.21" y1="213.0" x2="579.21" y2="217.5" stroke="#f8545b" stroke-width="1.1" stroke-opacity=".72"/><rect x="576.36" y="213.6" width="5.7" height="2.6" fill="#f8545b"/>
<line x1="585.94" y1="213.4" x2="585.94" y2="219.4" stroke="#8fe6e4" stroke-width="1.1" stroke-opacity=".72"/><rect x="583.09" y="214.9" width="5.7" height="2.6" fill="#8fe6e4"/>
<line x1="592.67" y1="210.5" x2="592.67" y2="216.8" stroke="#f8545b" stroke-width="1.1" stroke-opacity=".72"/><rect x="589.82" y="212.4" width="5.7" height="3.8" fill="#f8545b"/>
<line x1="599.40" y1="214.3" x2="599.40" y2="218.0" stroke="#8fe6e4" stroke-width="1.1" stroke-opacity=".72"/><rect x="596.55" y="214.9" width="5.7" height="1.5" fill="#8fe6e4"/>
<line x1="606.13" y1="215.3" x2="606.13" y2="217.8" stroke="#f8545b" stroke-width="1.1" stroke-opacity=".72"/><rect x="603.28" y="215.6" width="5.7" height="1.9" fill="#f8545b"/>
<line x1="612.86" y1="214.3" x2="612.86" y2="220.5" stroke="#8fe6e4" stroke-width="1.1" stroke-opacity=".72"/><rect x="610.01" y="216.2" width="5.7" height="3.8" fill="#8fe6e4"/>
<line x1="619.59" y1="218.0" x2="619.59" y2="228.9" stroke="#8fe6e4" stroke-width="1.1" stroke-opacity=".72"/><rect x="616.74" y="220.0" width="5.7" height="7.0" fill="#8fe6e4"/>
<line x1="626.32" y1="231.0" x2="626.32" y2="233.5" stroke="#8fe6e4" stroke-width="1.1" stroke-opacity=".72"/><rect x="623.47" y="231.3" width="5.7" height="1.9" fill="#8fe6e4"/>
<line x1="633.05" y1="230.0" x2="633.05" y2="239.8" stroke="#8fe6e4" stroke-width="1.1" stroke-opacity=".72"/><rect x="630.20" y="230.4" width="5.7" height="8.1" fill="#8fe6e4"/>
<line x1="639.78" y1="236.0" x2="639.78" y2="240.2" stroke="#8fe6e4" stroke-width="1.1" stroke-opacity=".72"/><rect x="636.93" y="237.5" width="5.7" height="1.5" fill="#8fe6e4"/>
<line x1="646.51" y1="233.2" x2="646.51" y2="238.0" stroke="#f8545b" stroke-width="1.1" stroke-opacity=".72"/><rect x="643.66" y="233.8" width="5.7" height="2.2" fill="#f8545b"/>
<line x1="653.24" y1="226.6" x2="653.24" y2="233.2" stroke="#8fe6e4" stroke-width="1.1" stroke-opacity=".72"/><rect x="650.39" y="227.0" width="5.7" height="5.3" fill="#8fe6e4"/>
<line x1="659.97" y1="228.0" x2="659.97" y2="235.7" stroke="#8fe6e4" stroke-width="1.1" stroke-opacity=".72"/><rect x="657.12" y="229.4" width="5.7" height="5.1" fill="#8fe6e4"/>
<line x1="666.70" y1="231.9" x2="666.70" y2="236.0" stroke="#f8545b" stroke-width="1.1" stroke-opacity=".72"/><rect x="663.85" y="232.3" width="5.7" height="3.0" fill="#f8545b"/>
<line x1="673.43" y1="233.2" x2="673.43" y2="238.3" stroke="#8fe6e4" stroke-width="1.1" stroke-opacity=".72"/><rect x="670.58" y="234.5" width="5.7" height="1.9" fill="#8fe6e4"/>
<line x1="680.16" y1="237.5" x2="680.16" y2="244.5" stroke="#8fe6e4" stroke-width="1.1" stroke-opacity=".72"/><rect x="677.31" y="237.9" width="5.7" height="5.3" fill="#8fe6e4"/>
<line x1="686.89" y1="239.8" x2="686.89" y2="245.0" stroke="#f8545b" stroke-width="1.1" stroke-opacity=".72"/><rect x="684.04" y="240.2" width="5.7" height="2.1" fill="#f8545b"/>
<line x1="693.62" y1="238.6" x2="693.62" y2="242.0" stroke="#8fe6e4" stroke-width="1.1" stroke-opacity=".72"/><rect x="690.77" y="238.9" width="5.7" height="2.8" fill="#8fe6e4"/>
<line x1="700.35" y1="244.0" x2="700.35" y2="248.3" stroke="#8fe6e4" stroke-width="1.1" stroke-opacity=".72"/><rect x="697.50" y="244.5" width="5.7" height="1.4" fill="#8fe6e4"/>
<line x1="707.08" y1="244.7" x2="707.08" y2="246.9" stroke="#f8545b" stroke-width="1.1" stroke-opacity=".72"/><rect x="704.23" y="245.0" width="5.7" height="1.6" fill="#f8545b"/>
<line x1="713.81" y1="243.6" x2="713.81" y2="246.3" stroke="#8fe6e4" stroke-width="1.1" stroke-opacity=".72"/><rect x="710.96" y="243.9" width="5.7" height="2.1" fill="#8fe6e4"/>
<line x1="720.54" y1="239.4" x2="720.54" y2="245.0" stroke="#f8545b" stroke-width="1.1" stroke-opacity=".72"/><rect x="717.69" y="240.0" width="5.7" height="3.8" fill="#f8545b"/>
<line x1="727.27" y1="242.8" x2="727.27" y2="247.0" stroke="#8fe6e4" stroke-width="1.1" stroke-opacity=".72"/><rect x="724.42" y="243.8" width="5.7" height="1.8" fill="#8fe6e4"/>
<line x1="734.00" y1="241.0" x2="734.00" y2="245.0" stroke="#f8545b" stroke-width="1.1" stroke-opacity=".72"/><rect x="731.15" y="241.3" width="5.7" height="3.4" fill="#f8545b"/>
<line x1="740.73" y1="239.4" x2="740.73" y2="243.8" stroke="#8fe6e4" stroke-width="1.1" stroke-opacity=".72"/><rect x="737.88" y="240.0" width="5.7" height="0.8" fill="#8fe6e4"/>
<line x1="747.46" y1="237.5" x2="747.46" y2="242.4" stroke="#8fe6e4" stroke-width="1.1" stroke-opacity=".72"/><rect x="744.61" y="240.0" width="5.7" height="1.9" fill="#8fe6e4"/>
<line x1="754.19" y1="240.5" x2="754.19" y2="246.2" stroke="#8fe6e4" stroke-width="1.1" stroke-opacity=".72"/><rect x="751.34" y="241.9" width="5.7" height="3.7" fill="#8fe6e4"/>
<line x1="760.92" y1="243.5" x2="760.92" y2="245.9" stroke="#f8545b" stroke-width="1.1" stroke-opacity=".72"/><rect x="758.07" y="243.8" width="5.7" height="1.8" fill="#f8545b"/>
<line x1="767.65" y1="241.9" x2="767.65" y2="249.4" stroke="#8fe6e4" stroke-width="1.1" stroke-opacity=".72"/><rect x="764.80" y="243.2" width="5.7" height="5.3" fill="#8fe6e4"/>
<line x1="774.38" y1="248.5" x2="774.38" y2="255.0" stroke="#8fe6e4" stroke-width="1.1" stroke-opacity=".72"/><rect x="771.53" y="250.0" width="5.7" height="3.2" fill="#8fe6e4"/>
<line x1="781.11" y1="254.4" x2="781.11" y2="256.2" stroke="#8fe6e4" stroke-width="1.1" stroke-opacity=".72"/><rect x="778.26" y="254.7" width="5.7" height="1.2" fill="#8fe6e4"/>
<line x1="787.84" y1="255.7" x2="787.84" y2="258.9" stroke="#8fe6e4" stroke-width="1.1" stroke-opacity=".72"/><rect x="784.99" y="256.4" width="5.7" height="1.9" fill="#8fe6e4"/>
<line x1="794.57" y1="256.0" x2="794.57" y2="264.0" stroke="#8fe6e4" stroke-width="1.1" stroke-opacity=".72"/><rect x="791.72" y="258.3" width="5.7" height="5.3" fill="#8fe6e4"/>
<line x1="801.30" y1="255.0" x2="801.30" y2="268.3" stroke="#f8545b" stroke-width="1.1" stroke-opacity=".72"/><rect x="798.45" y="255.9" width="5.7" height="8.1" fill="#f8545b"/>
<line x1="808.03" y1="249.5" x2="808.03" y2="262.5" stroke="#8fe6e4" stroke-width="1.1" stroke-opacity=".72"/><rect x="805.18" y="255.1" width="5.7" height="6.1" fill="#8fe6e4"/>
<line x1="814.76" y1="263.6" x2="814.76" y2="269.1" stroke="#8fe6e4" stroke-width="1.1" stroke-opacity=".72"/><rect x="811.91" y="264.1" width="5.7" height="1.6" fill="#8fe6e4"/>
<line x1="821.49" y1="263.8" x2="821.49" y2="266.4" stroke="#8fe6e4" stroke-width="1.1" stroke-opacity=".72"/><rect x="818.64" y="264.3" width="5.7" height="0.8" fill="#8fe6e4"/>
<line x1="828.22" y1="263.6" x2="828.22" y2="267.2" stroke="#8fe6e4" stroke-width="1.1" stroke-opacity=".72"/><rect x="825.37" y="264.0" width="5.7" height="1.4" fill="#8fe6e4"/>
<line x1="834.95" y1="265.0" x2="834.95" y2="271.0" stroke="#8fe6e4" stroke-width="1.1" stroke-opacity=".72"/><rect x="832.10" y="265.8" width="5.7" height="4.5" fill="#8fe6e4"/>
<line x1="841.68" y1="264.1" x2="841.68" y2="269.2" stroke="#f8545b" stroke-width="1.1" stroke-opacity=".72"/><rect x="838.83" y="264.4" width="5.7" height="4.5" fill="#f8545b"/>
<line x1="848.41" y1="260.6" x2="848.41" y2="265.9" stroke="#8fe6e4" stroke-width="1.1" stroke-opacity=".72"/><rect x="845.56" y="260.9" width="5.7" height="4.7" fill="#8fe6e4"/>
<line x1="855.14" y1="266.3" x2="855.14" y2="268.2" stroke="#8fe6e4" stroke-width="1.1" stroke-opacity=".72"/><rect x="852.29" y="266.6" width="5.7" height="1.3" fill="#8fe6e4"/>
<line x1="861.87" y1="267.4" x2="861.87" y2="270.7" stroke="#8fe6e4" stroke-width="1.1" stroke-opacity=".72"/><rect x="859.02" y="267.7" width="5.7" height="2.7" fill="#8fe6e4"/>
<line x1="868.60" y1="270.4" x2="868.60" y2="272.3" stroke="#f8545b" stroke-width="1.1" stroke-opacity=".72"/><rect x="865.75" y="271.0" width="5.7" height="0.8" fill="#f8545b"/>
<line x1="875.33" y1="269.5" x2="875.33" y2="272.0" stroke="#8fe6e4" stroke-width="1.1" stroke-opacity=".72"/><rect x="872.48" y="269.8" width="5.7" height="1.9" fill="#8fe6e4"/>
<line x1="882.06" y1="266.7" x2="882.06" y2="271.2" stroke="#f8545b" stroke-width="1.1" stroke-opacity=".72"/><rect x="879.21" y="267.0" width="5.7" height="3.9" fill="#f8545b"/>
<line x1="888.79" y1="268.6" x2="888.79" y2="271.6" stroke="#8fe6e4" stroke-width="1.1" stroke-opacity=".72"/><rect x="885.94" y="268.9" width="5.7" height="2.4" fill="#8fe6e4"/>
<line x1="895.52" y1="262.9" x2="895.52" y2="267.4" stroke="#f8545b" stroke-width="1.1" stroke-opacity=".72"/><rect x="892.67" y="265.7" width="5.7" height="1.6" fill="#f8545b"/>
<line x1="895.7" y1="150" x2="895.7" y2="416" stroke="#d4d4d4" stroke-width="1.4" stroke-dasharray="1.1 0.9"/>
<rect x="58" y="150.5" width="107.7" height="76.2" fill="#0b0b0b"/>
<rect x="58" y="326" width="108.6" height="43.3" fill="#0b0b0b"/>
<g font-size="12.5" fill="#f2f2f2">
<text x="60.5" y="161.3" class="sans" font-size="11.1">単純移動平均</text>
<text x="61.2" y="336.2" class="sans" font-size="10.8">出来高</text>
<text x="61.2" y="354.2" class="sans" font-size="10.8">出来高</text>
</g>
<g font-size="10.8" class="mono">
<text x="60" y="178.6" fill="#4fc79c">MA1(5)</text>
<text x="60" y="195.8" fill="#c4d672">MA2(25)</text>
<text x="60" y="213" fill="#d88cc2">MA3(75)</text>
</g>
<g font-size="12.3" fill="#f2f2f2" stroke="#f2f2f2" stroke-width=".2" text-anchor="end">
<text x="155.7" y="179">539.60</text>
<text x="155.7" y="196.2">662.60</text>
<text x="155.7" y="213.4">1,084.93</text>
<text x="156.3" y="354.1">70,973,600</text>
</g>
<g font-size="12.3" fill="#e4e4e4" stroke="#e4e4e4" stroke-width=".25">
<text x="899.5" y="159.8">2000</text>
<text x="899.5" y="195.4">1500</text>
<text x="899.5" y="236.2">1000</text>
<text x="899.5" y="277.0">500</text>
<text x="899.5" y="313.9">0</text>
<text x="899.5" y="335.0">200,000,000</text>
<text x="899.5" y="352.6">150,000,000</text>
<text x="899.5" y="375.0">100,000,000</text>
<text x="899.5" y="397.3">50,000,000</text>
<text x="899.5" y="416.0">0</text>
</g>
<g font-size="12.3" fill="#e4e4e4" stroke="#e4e4e4" stroke-width=".25" text-anchor="middle">
<text x="195.6" y="428.1">25/05</text>
<text x="330.2" y="428.1">25/06</text>
<text x="471.5" y="428.1">25/07</text>
<text x="619.6" y="428.1">25/08</text>
<text x="754.2" y="428.1">25/09</text>
<text x="888.8" y="428.1">25/10</text>
</g>
<path d="M896.6 266.3L900.2 258.9H924V273.8H900.2Z" fill="#8fe6e4"/>
<text x="902.2" y="270.7" font-size="12.6" fill="#1d5a5a" stroke="#1d5a5a" stroke-width=".25">579</text>
<path d="M869.7 430.2H893.6L895.7 427.6L897.8 430.2H921.8V447.8H869.7Z" fill="#eeeeee"/>
<text x="895.8" y="443.2" font-size="12.6" fill="#333" stroke="#333" stroke-width=".3" text-anchor="middle">&lt; 10/02 &gt;</text>
<rect x="988.3" y="118.7" width="17.6" height="17.4" rx="3.2" fill="#9b9b9b"/>
<circle cx="996.9" cy="224.9" r="11.0" fill="none" stroke="#9b9b9b" stroke-width="1.7"/><circle cx="996.9" cy="224.9" r="6.5" fill="#9b9b9b"/>
<path d="M989.3 322.4L1004.2 313.2V331.6Z" fill="#9b9b9b" stroke="#9b9b9b" stroke-width="1.6" stroke-linejoin="round"/>
</svg>
</body>
</html>
